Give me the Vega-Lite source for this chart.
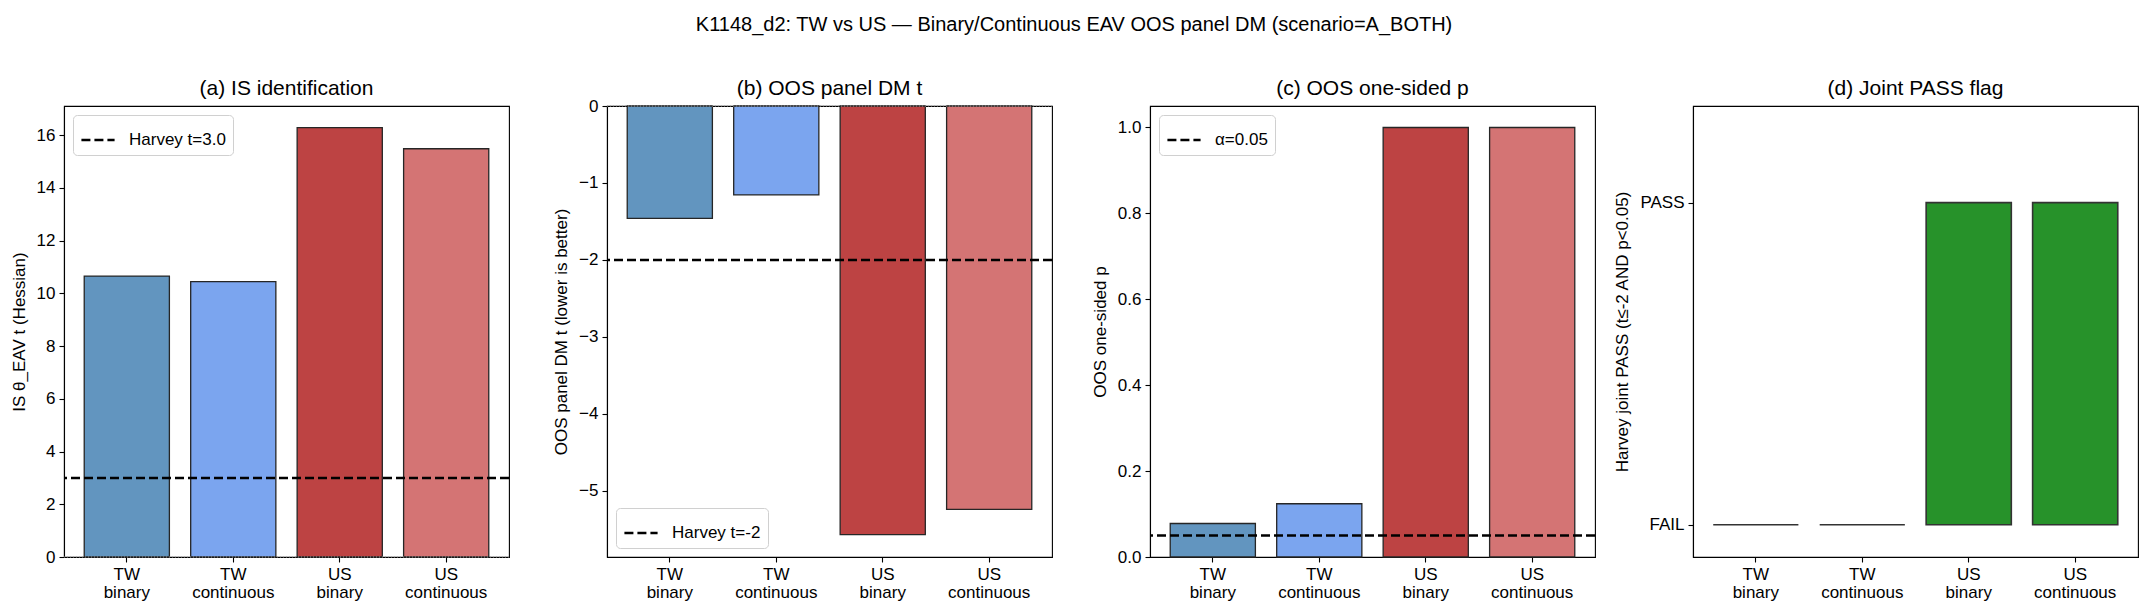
{
  "$schema": "https://vega.github.io/schema/vega-lite/v6.json",
  "autosize": {"type": "pad"},
  "padding": {"left": 9, "top": 15, "right": 5, "bottom": 5},
  "background": "white",
  "bounds": "flush",
  "spacing": 98,
  "title": {"text": "K1148_d2: TW vs US — Binary/Continuous EAV OOS panel DM (scenario=A_BOTH)", "anchor": "middle", "fontSize": 20, "fontWeight": "normal", "color": "black", "offset": 42},
  "datasets": {
    "bars": [
      {"panel": "a", "cat": "TW binary", "value": 10.65},
      {"panel": "a", "cat": "TW continuous", "value": 10.44},
      {"panel": "a", "cat": "US binary", "value": 16.28},
      {"panel": "a", "cat": "US continuous", "value": 15.48},
      {"panel": "b", "cat": "TW binary", "value": -1.46},
      {"panel": "b", "cat": "TW continuous", "value": -1.155},
      {"panel": "b", "cat": "US binary", "value": -5.57},
      {"panel": "b", "cat": "US continuous", "value": -5.24},
      {"panel": "c", "cat": "TW binary", "value": 0.078},
      {"panel": "c", "cat": "TW continuous", "value": 0.124},
      {"panel": "c", "cat": "US binary", "value": 1.0},
      {"panel": "c", "cat": "US continuous", "value": 1.0},
      {"panel": "d", "cat": "TW binary", "value": 0},
      {"panel": "d", "cat": "TW continuous", "value": 0},
      {"panel": "d", "cat": "US binary", "value": 1},
      {"panel": "d", "cat": "US continuous", "value": 1}
    ],
    "lines": [
      {"panel": "a", "kind": "thr", "label": "Harvey t=3.0", "value": 3.0},
      {"panel": "b", "kind": "thr", "label": "Harvey t=-2", "value": -2},
      {"panel": "c", "kind": "thr", "label": "α=0.05", "value": 0.05},
      {"panel": "a", "kind": "zero", "label": "zero", "value": 0},
      {"panel": "b", "kind": "zero", "label": "zero", "value": 0}
    ]
  },
  "hconcat": [
    {
      "width": 445, "height": 451,
      "title": {"text": "(a) IS identification"},
      "layer": [
        {
          "data": {"name": "bars"},
          "transform": [{"filter": "datum.panel === 'a'"}],
          "mark": {"type": "bar", "stroke": "#262626", "strokeWidth": 1.3},
          "encoding": {
            "x": {"field": "cat", "type": "nominal", "sort": ["TW binary", "TW continuous", "US binary", "US continuous"], "scale": {"paddingInner": 0.2, "paddingOuter": 0.19}, "axis": {"title": null, "labelAngle": 0, "labelExpr": "split(datum.value, ' ')", "labelLineHeight": 18}},
            "y": {"field": "value", "type": "quantitative", "scale": {"domain": [0, 17.1], "nice": false}, "axis": {"title": "IS θ_EAV t (Hessian)", "values": [0, 2, 4, 6, 8, 10, 12, 14, 16]}},
            "color": {"field": "cat", "type": "nominal", "scale": {"domain": ["TW binary", "TW continuous", "US binary", "US continuous"], "range": ["#6295bf", "#7ba5ef", "#bd4343", "#d47474"]}, "legend": null}
          }
        },
        {
          "data": {"name": "lines"},
          "transform": [{"filter": "datum.panel === 'a' && datum.kind === 'zero'"}],
          "mark": {"type": "rule", "color": "#999999", "strokeWidth": 1, "strokeDash": [1, 2]},
          "encoding": {"y": {"field": "value", "type": "quantitative"}}
        },
        {
          "data": {"name": "lines"},
          "transform": [{"filter": "datum.panel === 'a' && datum.kind === 'thr'"}],
          "mark": {"type": "rule", "color": "black", "strokeWidth": 2.5},
          "encoding": {
            "y": {"field": "value", "type": "quantitative"},
            "strokeDash": {"field": "label", "type": "nominal", "scale": {"range": [[9, 4]]}, "legend": {"orient": "top-left"}}
          }
        }
      ]
    },
    {
      "width": 445, "height": 451,
      "title": {"text": "(b) OOS panel DM t", "offset": -2},
      "layer": [
        {
          "data": {"name": "bars"},
          "transform": [{"filter": "datum.panel === 'b'"}],
          "mark": {"type": "bar", "stroke": "#262626", "strokeWidth": 1.3},
          "encoding": {
            "x": {"field": "cat", "type": "nominal", "sort": ["TW binary", "TW continuous", "US binary", "US continuous"], "scale": {"paddingInner": 0.2, "paddingOuter": 0.19}, "axis": {"title": null, "labelAngle": 0, "labelExpr": "split(datum.value, ' ')", "labelLineHeight": 18}},
            "y": {"field": "value", "type": "quantitative", "scale": {"domain": [-5.86, 0], "nice": false}, "axis": {"title": "OOS panel DM t (lower is better)", "values": [0, -1, -2, -3, -4, -5], "format": ".0f"}},
            "color": {"field": "cat", "type": "nominal", "scale": {"domain": ["TW binary", "TW continuous", "US binary", "US continuous"], "range": ["#6295bf", "#7ba5ef", "#bd4343", "#d47474"]}, "legend": null}
          }
        },
        {
          "data": {"name": "lines"},
          "transform": [{"filter": "datum.panel === 'b' && datum.kind === 'zero'"}],
          "mark": {"type": "rule", "color": "#999999", "strokeWidth": 1, "strokeDash": [1, 2]},
          "encoding": {"y": {"field": "value", "type": "quantitative"}}
        },
        {
          "data": {"name": "lines"},
          "transform": [{"filter": "datum.panel === 'b' && datum.kind === 'thr'"}],
          "mark": {"type": "rule", "color": "black", "strokeWidth": 2.5},
          "encoding": {
            "y": {"field": "value", "type": "quantitative"},
            "strokeDash": {"field": "label", "type": "nominal", "scale": {"range": [[9, 4]]}, "legend": {"orient": "bottom-left"}}
          }
        }
      ]
    },
    {
      "width": 445, "height": 451,
      "title": {"text": "(c) OOS one-sided p"},
      "layer": [
        {
          "data": {"name": "bars"},
          "transform": [{"filter": "datum.panel === 'c'"}],
          "mark": {"type": "bar", "stroke": "#262626", "strokeWidth": 1.3},
          "encoding": {
            "x": {"field": "cat", "type": "nominal", "sort": ["TW binary", "TW continuous", "US binary", "US continuous"], "scale": {"paddingInner": 0.2, "paddingOuter": 0.19}, "axis": {"title": null, "labelAngle": 0, "labelExpr": "split(datum.value, ' ')", "labelLineHeight": 18}},
            "y": {"field": "value", "type": "quantitative", "scale": {"domain": [0, 1.05], "nice": false}, "axis": {"title": "OOS one-sided p", "values": [0, 0.2, 0.4, 0.6, 0.8, 1.0], "format": ".1f"}},
            "color": {"field": "cat", "type": "nominal", "scale": {"domain": ["TW binary", "TW continuous", "US binary", "US continuous"], "range": ["#6295bf", "#7ba5ef", "#bd4343", "#d47474"]}, "legend": null}
          }
        },
        {
          "data": {"name": "lines"},
          "transform": [{"filter": "datum.panel === 'c' && datum.kind === 'thr'"}],
          "mark": {"type": "rule", "color": "black", "strokeWidth": 2.5},
          "encoding": {
            "y": {"field": "value", "type": "quantitative"},
            "strokeDash": {"field": "label", "type": "nominal", "scale": {"range": [[9, 4]]}, "legend": {"orient": "top-left"}}
          }
        }
      ]
    },
    {
      "width": 445, "height": 451,
      "title": {"text": "(d) Joint PASS flag"},
      "layer": [
        {
          "data": {"name": "bars"},
          "transform": [{"filter": "datum.panel === 'd'"}],
          "mark": {"type": "bar", "color": "#27922a", "stroke": "#333333", "strokeWidth": 1.6},
          "encoding": {
            "x": {"field": "cat", "type": "nominal", "sort": ["TW binary", "TW continuous", "US binary", "US continuous"], "scale": {"paddingInner": 0.2, "paddingOuter": 0.19}, "axis": {"title": null, "labelAngle": 0, "labelExpr": "split(datum.value, ' ')", "labelLineHeight": 18}},
            "y": {"field": "value", "type": "quantitative", "scale": {"domain": [-0.1, 1.3], "nice": false, "zero": false}, "axis": {"title": "Harvey joint PASS (t≤-2 AND p<0.05)", "values": [0, 1], "labelExpr": "datum.value === 1 ? 'PASS' : 'FAIL'"}}
          }
        }
      ]
    }
  ],
  "resolve": {"scale": {"x": "independent", "y": "independent", "color": "independent", "strokeDash": "independent"}, "legend": {"strokeDash": "independent"}},
  "config": {
    "font": "Liberation Sans",
    "view": {"stroke": "black", "strokeWidth": 1.1},
    "axis": {"labelFontSize": 17, "titleFontSize": 17, "labelColor": "black", "titleColor": "black", "tickColor": "black", "domainColor": "black", "tickSize": 5, "tickWidth": 1.1, "domainWidth": 1.1, "grid": false, "titleFontWeight": "normal", "labelPadding": 4, "titlePadding": 8, "labelFont": "Liberation Sans", "titleFont": "Liberation Sans"},
    "title": {"fontSize": 21, "fontWeight": "normal", "color": "black", "offset": 7, "font": "Liberation Sans"},
    "legend": {"offset": 9, "fillColor": "white", "strokeColor": "#d0d0d0", "cornerRadius": 4, "padding": 7, "labelFontSize": 17, "labelColor": "black", "symbolType": "stroke", "symbolSize": 1100, "symbolStrokeWidth": 2.5, "symbolStrokeColor": "black", "symbolDash": [9, 4], "labelOffset": 13, "title": null, "labelFont": "Liberation Sans"}
  }
}
